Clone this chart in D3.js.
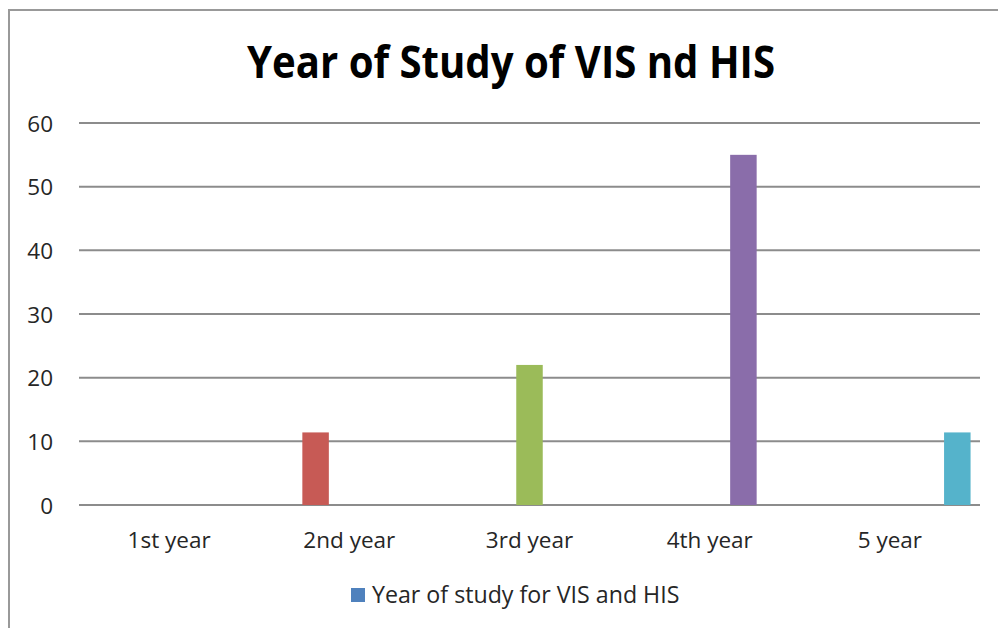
<!DOCTYPE html>
<html>
<head>
<meta charset="utf-8">
<script src="https://cdn.jsdelivr.net/npm/d3@7/dist/d3.min.js"></script>
<style>
  html, body { margin: 0; padding: 0; background: #fff; }
  svg { display: block; }
  text { font-family: "Open Sans", "Liberation Sans", sans-serif; }
</style>
</head>
<body>
<svg id="chart" width="998" height="628"></svg>
<script>
// Year-of-study shares (percent) for VIS and HIS students
const categories = ["1st year", "2nd year", "3rd year", "4th year", "5 year"];
const values = [0, 11.4, 22, 55, 11.4];
const barColors = ["#4F81BD", "#C75A55", "#9BBB59", "#8A6DAA", "#55B3CB"];
const yTicks = [0, 10, 20, 30, 40, 50, 60];
const titleText = "Year of Study of VIS nd HIS";
const legendLabel = "Year of study for VIS and HIS";
const legendColor = "#4F81BD";

const svg = d3.select("#chart");
const W = 998, H = 628;
const margin = { top: 123, right: 18, bottom: 123, left: 79 };
const plotW = W - margin.left - margin.right;
const plotH = H - margin.top - margin.bottom;

// outer frame of the chart area
svg.append("path")
  .attr("d", `M9,${H + 5} L9,10 L${W + 5},10`)
  .attr("fill", "none")
  .attr("stroke", "#999")
  .attr("stroke-width", 2);

// title
svg.append("text")
  .attr("x", 511)
  .attr("y", 78)
  .attr("text-anchor", "middle")
  .attr("font-weight", "bold")
  .attr("font-size", 44)
  .attr("textLength", 528)
  .attr("lengthAdjust", "spacingAndGlyphs")
  .attr("fill", "#000")
  .text(titleText);

const g = svg.append("g").attr("transform", `translate(${margin.left},${margin.top})`);

const y = d3.scaleLinear().domain([0, 60]).range([plotH, 0]);
const x0 = d3.scaleBand().domain(categories).range([0, plotW]).padding(0);
// each category reserves one slot per point, the bar sits in its own slot
const x1 = d3.scaleBand().domain(d3.range(categories.length))
  .range([0, x0.bandwidth()]).paddingInner(0.214).paddingOuter(0.28);

// horizontal gridlines
g.append("g")
  .selectAll("line")
  .data(yTicks)
  .join("line")
  .attr("x1", 0)
  .attr("x2", plotW)
  .attr("y1", d => y(d))
  .attr("y2", d => y(d))
  .attr("stroke", "#8c8c8c")
  .attr("stroke-width", 2);

// y axis labels
const yAxis = d3.axisLeft(y).tickValues(yTicks).tickSize(0).tickPadding(26);
g.append("g").call(yAxis)
  .call(s => s.select(".domain").remove())
  .selectAll("text")
  .attr("font-size", 22.5)
  .attr("font-family", "'Open Sans', sans-serif")
  .attr("fill", "#262626")
  .attr("dy", "0.36em");

// bars
g.append("g")
  .selectAll("rect")
  .data(categories.map((c, i) => ({ c, i, v: values[i] })))
  .join("rect")
  .attr("x", d => x0(d.c) + x1(d.i))
  .attr("width", x1.bandwidth())
  .attr("y", d => y(d.v))
  .attr("height", d => plotH - y(d.v))
  .attr("fill", d => barColors[d.i]);

// x axis labels
const xAxis = d3.axisBottom(x0).tickSize(0).tickPadding(27);
g.append("g").attr("transform", `translate(0,${plotH})`).call(xAxis)
  .call(s => s.select(".domain").remove())
  .selectAll("text")
  .attr("font-size", 22.5)
  .attr("font-family", "'Open Sans', sans-serif")
  .attr("fill", "#262626");

// legend
const lg = svg.append("g").attr("transform", "translate(351,588)");
lg.append("rect").attr("width", 14).attr("height", 14).attr("fill", legendColor);
lg.append("text")
  .attr("x", 21)
  .attr("y", 7)
  .attr("dy", "0.36em")
  .attr("font-size", 23.2)
  .attr("fill", "#262626")
  .text(legendLabel);
</script>
</body>
</html>
